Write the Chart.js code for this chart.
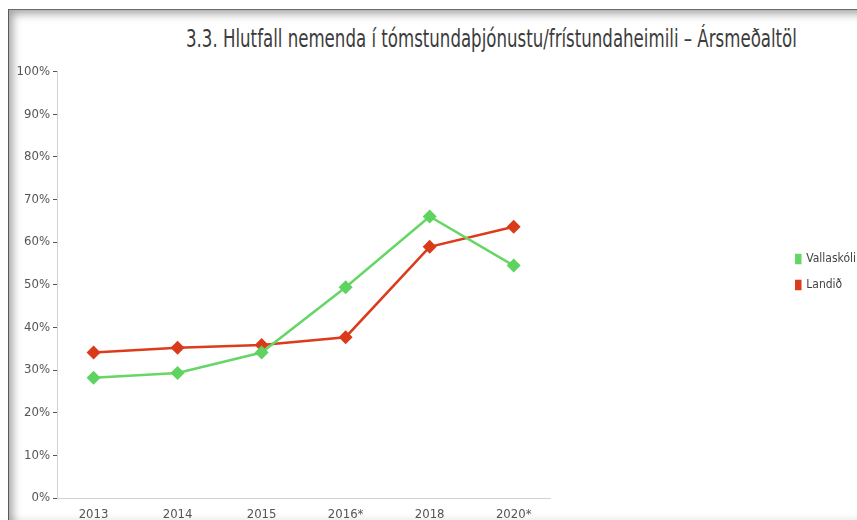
<!DOCTYPE html>
<html>
<head>
<meta charset="utf-8">
<script src="https://cdn.jsdelivr.net/npm/chart.js@4"></script>
<style>
  html, body { margin: 0; padding: 0; background: #fff; width: 857px; height: 520px; overflow: hidden; }
  #frame {
    position: absolute; left: 8px; top: 9px; width: 849px; height: 511px;
    border-top: 1px solid #6a6a6a; border-left: 1px solid #5a5a5a;
    box-shadow: inset 9px 9px 9px -5px rgba(0,0,0,0.35), inset 0 -6px 6px -4px rgba(0,0,0,0.08);
    box-sizing: border-box;
  }
  #title {
    position: absolute; left: 186px; top: 24px; white-space: nowrap;
    font-family: 'Liberation Sans Narrow', 'DejaVu Sans Condensed', 'Roboto Condensed', sans-serif;
    font-size: 25px; color: #3c3c3c; transform-origin: left top;
  }
  #wrap { position: absolute; left: 8px; top: 9px; width: 858px; height: 511px; }
</style>
</head>
<body>
<div id="frame"></div>
<div id="title">3.3. Hlutfall nemenda í tómstundaþjónustu/frístundaheimili – Ársmeðaltöl</div>
<div id="wrap"><canvas id="myChart"></canvas></div>
<script>
// Chart data
let years = ['2013', '2014', '2015', '2016*', '2018', '2020*'];
let vallaskoli = [28.2, 29.3, 34.1, 49.4, 66.0, 54.5];
let landid = [34.1, 35.2, 35.9, 37.7, 58.9, 63.6];
let yTicks = [0, 10, 20, 30, 40, 50, 60, 70, 80, 90, 100];

let narrow = "'Liberation Sans Narrow', 'DejaVu Sans Condensed', 'Roboto Condensed', sans-serif";

// squeeze title to the width seen in the picture
let t = document.getElementById('title');
t.style.transform = 'scaleX(' + (611 / t.offsetWidth) + ')';

// years go on a numeric axis (index) so the side margins can be set
function toPoints(arr) {
    return arr.map(function(v, i) { return { x: i, y: v }; });
}

Chart.defaults.font.family = narrow;
Chart.defaults.font.size = 13;
Chart.defaults.color = '#555';

let ctx = document.getElementById('myChart').getContext('2d');
let myChart = new Chart(ctx, {
    type: 'line',
    data: {
        datasets: [{
            label: 'Vallaskóli',
            data: toPoints(vallaskoli),
            borderColor: '#66d666',
            backgroundColor: '#5fd35f',
            borderWidth: 2.5,
            pointStyle: 'rectRot',
            pointRadius: 7,
            pointHoverRadius: 7,
            pointBorderWidth: 0
        }, {
            label: 'Landið',
            data: toPoints(landid),
            borderColor: '#dc3b1c',
            backgroundColor: '#d93a1a',
            borderWidth: 2.5,
            pointStyle: 'rectRot',
            pointRadius: 7,
            pointHoverRadius: 7,
            pointBorderWidth: 0
        }]
    },
    options: {
        responsive: true,
        maintainAspectRatio: false,
        animation: false,
        layout: { padding: { top: 62.5, right: 0, left: 0, bottom: 0 } },
        plugins: {
            title: { display: false },
            tooltip: { enabled: false },
            legend: {
                position: 'right',
                align: 'start',
                // empty title only used to push the items down
                title: { display: true, text: ' ', padding: { top: 152, bottom: 0 } },
                labels: {
                    boxWidth: 4,
                    boxHeight: 8,
                    padding: 14,
                    color: '#444',
                    font: { size: 12 }
                }
            }
        },
        scales: {
            x: {
                type: 'linear',
                min: -0.435,
                max: years.length - 1 + 0.435,
                afterBuildTicks: function(scale) {
                    scale.ticks = years.map(function(y, i) { return { value: i }; });
                },
                grid: { display: false, drawTicks: false },
                border: { display: true, color: '#d2d2d2', width: 1 },
                ticks: {
                    padding: 9,
                    color: '#555',
                    maxRotation: 0,
                    autoSkip: false,
                    callback: function(v) { return years[v]; }
                },
                afterFit: function(scale) { scale.height = 22; }
            },
            y: {
                min: 0,
                max: 100,
                afterBuildTicks: function(scale) {
                    scale.ticks = yTicks.map(function(v) { return { value: v }; });
                },
                afterFit: function(scale) { scale.width = 49; },
                grid: { drawOnChartArea: false, tickLength: 4, color: '#555' },
                border: { display: true, color: '#d2d2d2', width: 1 },
                ticks: {
                    padding: 3,
                    color: '#555',
                    callback: function(v) { return v + '%'; }
                }
            },
            gap: {
                position: 'right',
                display: true,
                grid: { display: false },
                border: { display: false },
                ticks: { display: false },
                afterFit: function(scale) { scale.width = 232; }
            }
        }
    }
});
</script>
</body>
</html>
